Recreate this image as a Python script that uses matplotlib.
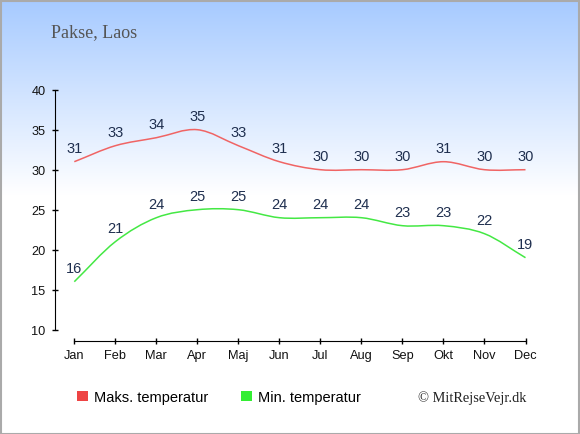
import numpy as np
import matplotlib
matplotlib.use("Agg")
import matplotlib.pyplot as plt
from matplotlib.path import Path
from matplotlib.patches import PathPatch, Patch, Rectangle

months = ["Jan", "Feb", "Mar", "Apr", "Maj", "Jun", "Jul", "Aug", "Sep", "Okt", "Nov", "Dec"]
max_temp = [31, 33, 34, 35, 33, 31, 30, 30, 30, 31, 30, 30]
min_temp = [16, 21, 24, 25, 25, 24, 24, 24, 23, 23, 22, 19]
yticks = [10, 15, 20, 25, 30, 35, 40]

RED = "#f06464"
GREEN = "#44e844"
LABEL_COLOR = "#1f2f4f"

plt.rcParams["font.family"] = ["Liberation Sans", "DejaVu Sans"]

W, H = 580, 435
fig = plt.figure(figsize=(W / 100, H / 100), dpi=100)

# background gradient, light blue at top fading to white
bg = fig.add_axes([0, 0, 1, 1], zorder=-10)
rows = np.linspace(0, 1, 435)
fade = np.clip(rows / 0.45, 0, 1)
top = np.array([166, 202, 255]) / 255.0
grad = top[None, :] * (1 - fade[:, None]) + np.ones(3)[None, :] * fade[:, None]
bg.imshow(grad[:, None, :], aspect="auto", extent=[0, 1, 0, 1], origin="upper")
bg.set_axis_off()
fig.patches.append(Rectangle((0.5 / W, 0.5 / H), 1 - 2 / W, 1 - 2 / H, transform=fig.transFigure,
                             fill=False, edgecolor="#aaaaaa", linewidth=1.5))

# main axes: left spine at x=55, x axis at y=342, 40 at y=90.7
ax_left, ax_right = 54.7, 525.5
ax_top, ax_bottom = 90.7, 342
ax = fig.add_axes([ax_left / W, 1 - ax_bottom / H, (ax_right - ax_left) / W, (ax_bottom - ax_top) / H])
ax.set_facecolor("none")
step = (ax_right - 74.3) / 11
ax.set_xlim(-(74.3 - ax_left) / step, 11)
ppu = (330.7 - 90.7) / 30
ax.set_ylim(10 - (ax_bottom - 330.7) / ppu, 40)

for s in ["top", "right"]:
    ax.spines[s].set_visible(False)
ax.spines["left"].set_bounds(10, 40)
ax.spines["bottom"].set_bounds(0, 11)
ax.set_xticks(range(12))
ax.set_xticklabels(months)
ax.set_yticks(yticks)
ax.tick_params(direction="inout", length=5, width=1, labelsize=9.2, colors="black", pad=3)
ax.tick_params(axis="y", pad=4)
for lbl in ax.get_xticklabels() + ax.get_yticklabels():
    lbl.set_color("#111111")


def smooth_path(values):
    x = np.arange(len(values), dtype=float)
    y = np.array(values, dtype=float)
    m = np.zeros_like(y)
    m[1:-1] = (y[2:] - y[:-2]) / 2
    m[0] = y[1] - y[0]
    m[-1] = y[-1] - y[-2]
    verts = [(x[0], y[0])]
    codes = [Path.MOVETO]
    for i in range(len(x) - 1):
        verts += [(x[i] + 1 / 3, y[i] + m[i] / 3),
                  (x[i + 1] - 1 / 3, y[i + 1] - m[i + 1] / 3),
                  (x[i + 1], y[i + 1])]
        codes += [Path.CURVE4] * 3
    return Path(verts, codes)


for vals, col in [(max_temp, RED), (min_temp, GREEN)]:
    ax.add_patch(PathPatch(smooth_path(vals), facecolor="none", edgecolor=col, linewidth=1.1))
    for i, v in enumerate(vals):
        ax.annotate(str(v), (i, v), xytext=(0, 14), textcoords="offset pixels",
                    ha="center", va="center", fontsize=10.5, color=LABEL_COLOR)

fig.text(51 / W, 1 - 33 / H, "Pakse, Laos", fontsize=13, color="#555555",
         family="Liberation Serif", ha="left", va="center")

handles = [Patch(facecolor="#ee4444", edgecolor="none", label="Maks. temperatur"),
           Patch(facecolor="#33ee33", edgecolor="none", label="Min. temperatur")]
fig.legend(handles=handles, loc="center left", bbox_to_anchor=(71 / W, 1 - 398 / H), ncol=2,
           frameon=False, fontsize=10.5, handlelength=0.75, handleheight=0.75,
           handletextpad=0.45, columnspacing=2.2, borderaxespad=0)

fig.text(526 / W, 1 - 398 / H, "© MitRejseVejr.dk", fontsize=10.4, color="#222222",
         family="Liberation Serif", ha="right", va="center")

fig.savefig("out.png", dpi=100)
